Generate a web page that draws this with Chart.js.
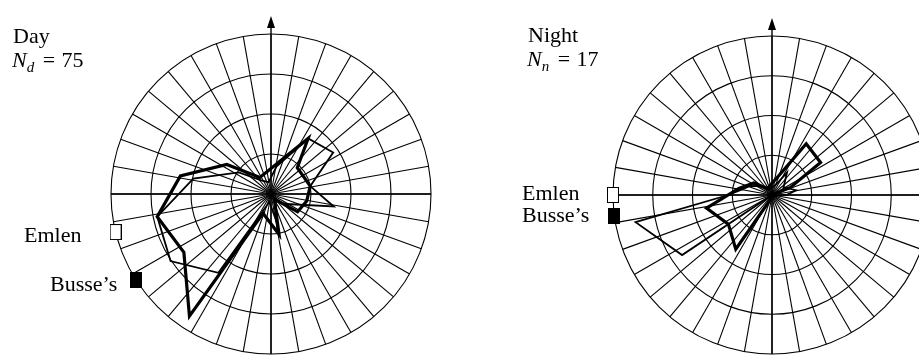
<!DOCTYPE html>
<html>
<head>
<meta charset="utf-8">
<script src="https://cdn.jsdelivr.net/npm/chart.js"></script>
<style>
    html, body { margin: 0; padding: 0; background: #fff; width: 919px; height: 355px; overflow: hidden; }
    canvas { position: absolute; top: 0; }
    .txt { position: absolute; font-family: "Liberation Serif", "Times New Roman", serif; font-size: 22px; line-height: 22px; white-space: nowrap; color: #000; }
    .sub { font-size: 15px; position: relative; top: 5px; font-style: italic; }
    .eq { padding: 0 1px 0 3px; }
</style>
</head>
<body>
<canvas id="day-chart" width="460" height="355" style="left:0"></canvas>
<canvas id="night-chart" width="480" height="355" style="left:460px"></canvas>

<div class="txt" style="left:13px;top:24.6px">Day</div>
<div class="txt" style="left:12px;top:48.6px"><i>N</i><span class="sub">d</span><span class="eq">&nbsp;=&nbsp;</span>75</div>
<div class="txt" style="left:24px;top:223.6px">Emlen</div>
<div class="txt" style="left:50px;top:272.6px">Busse’s</div>

<div class="txt" style="left:528px;top:23.6px">Night</div>
<div class="txt" style="left:527px;top:47.6px"><i>N</i><span class="sub">n</span><span class="eq">&nbsp;=&nbsp;</span>17</div>
<div class="txt" style="left:522px;top:181.6px">Emlen</div>
<div class="txt" style="left:522px;top:203.6px">Busse’s</div>

<script>
// Directions of the 32 sectors (degrees, clockwise from north)
const bearings = [0, 11.25, 22.5, 33.75, 45, 56.25, 67.5, 78.75,
    90, 101.25, 112.5, 123.75, 135, 146.25, 157.5, 168.75,
    180, 191.25, 202.5, 213.75, 225, 236.25, 247.5, 258.75,
    270, 281.25, 292.5, 303.75, 315, 326.25, 337.5, 348.75];

// Values in ring units (outer circle = 4); null = no vertex drawn there
const dayThick = [null, null, null, 1.67, 0.93, null, null, 1.0,
    null, 0.91, null, 0.8, null, 0.15, null, 1.03,
    null, null, 0.52, 3.67, null, 2.62, null, 2.9,
    null, 2.31, null, 1.33, null, 0.5, null, null];
const dayThin = [null, 0.7, null, 1.67, null, 1.87, null, 1.0,
    null, 1.6, null, 0.45, null, 0.2, null, 0.7,
    null, 0.2, null, 2.37, null, 3.02, null, 2.9,
    null, 1.98, null, 0.97, null, 0.4, null, 0.3];

const nightThick = [null, null, 0.6, 1.55, null, 1.47, 0.5, null,
    null, null, null, null, 0, null, null, null,
    null, null, 0.15, 1.64, null, 1.32, null, 1.68,
    null, 0.85, null, 0.55, null, 0.2, null, null];
const nightThin = [null, null, 0.3, 0.68, null, 0.35, null, 0.62,
    0.36, null, 0.05, null, null, null, null, null,
    null, 0, null, null, null, 2.72, null, 3.5,
    1.1, 0.75, 0.6, 0.4, null, 0.15, null, null];

// Mean directions marked on the outer circle
const markerNames = ['Emlen', 'Busse’s'];
const dayMarkerBearings = [256, 238];
const nightMarkerBearings = [270, 263];
const outerRing = 4;

// Fine angular grid so both 10° spokes and 11.25° sectors fall on labels
const STEP = 1.25;
const slots = Array.from({ length: 360 / STEP }, (_, i) => i * STEP);

function expand(angles, values) {
    const out = slots.map(() => null);
    angles.forEach((a, i) => {
        if (values[i] === null || values[i] === undefined) return;
        out[Math.round(a / STEP) % slots.length] = values[i];
    });
    return out;
}

// Small rectangles used as marker glyphs
function markerGlyph(filled) {
    const c = document.createElement('canvas');
    c.width = 12;
    c.height = 16;
    const g = c.getContext('2d');
    g.fillStyle = filled ? '#000' : '#fff';
    g.fillRect(0.5, 0.5, 11, 15);
    g.strokeStyle = '#000';
    g.lineWidth = 1;
    g.strokeRect(0.5, 0.5, 11, 15);
    return c;
}

// Axis cross with arrow on top, drawn from the radial scale geometry
const axesPlugin = {
    id: 'axes',
    beforeDatasetsDraw(chart) {
        const s = chart.scales.r;
        const ctx = chart.ctx;
        const r = s.drawingArea;
        const cx = s.xCenter, cy = s.yCenter;
        ctx.save();
        ctx.strokeStyle = '#000';
        ctx.lineWidth = 1.4;
        ctx.beginPath();
        ctx.moveTo(cx - r, cy);
        ctx.lineTo(cx + r, cy);
        ctx.moveTo(cx, cy + r);
        ctx.lineTo(cx, cy - r - 8);
        ctx.stroke();
        ctx.fillStyle = '#000';
        ctx.beginPath();
        ctx.moveTo(cx, cy - r - 18);
        ctx.lineTo(cx - 4, cy - r - 6);
        ctx.lineTo(cx + 4, cy - r - 6);
        ctx.closePath();
        ctx.fill();
        ctx.restore();
    }
};

function lineSet(label, values, width) {
    return {
        label: label,
        data: expand(bearings, values),
        borderColor: '#000',
        borderWidth: width,
        borderJoinStyle: 'miter',
        fill: false,
        spanGaps: true,
        tension: 0,
        pointRadius: 0,
        pointHoverRadius: 0,
        clip: false
    };
}

function markerSet(label, bearing, filled) {
    return {
        label: label,
        data: expand([bearing], [outerRing]),
        showLine: false,
        pointStyle: markerGlyph(filled),
        pointRadius: 6,
        pointHoverRadius: 6,
        clip: false
    };
}

function renderRose(canvasId, thick, thin, markerBearings, padding) {
    const ctx = document.getElementById(canvasId).getContext('2d');
    return new Chart(ctx, {
        type: 'radar',
        data: {
            labels: slots,
            datasets: [
                lineSet('thin', thin, 1.8),
                lineSet('thick', thick, 3.2),
                markerSet(markerNames[0], markerBearings[0], false),
                markerSet(markerNames[1], markerBearings[1], true)
            ]
        },
        options: {
            responsive: false,
            animation: false,
            events: [],
            layout: { padding: padding },
            plugins: { legend: { display: false }, tooltip: { enabled: false } },
            scales: {
                r: {
                    min: 0,
                    max: outerRing,
                    startAngle: 0,
                    ticks: { display: false, stepSize: 1 },
                    grid: { circular: true, color: '#000', lineWidth: 1.1 },
                    angleLines: {
                        color: '#000',
                        // one spoke every 10 degrees
                        lineWidth: c => (c.index % 8 === 0 ? 1.1 : 0)
                    },
                    pointLabels: { display: false }
                }
            }
        },
        plugins: [axesPlugin]
    });
}

renderRose('day-chart', dayThick, dayThin, dayMarkerBearings,
    { left: 111, top: 34, right: 29, bottom: 1 });
renderRose('night-chart', nightThick, nightThin, nightMarkerBearings,
    { left: 153, top: 36, right: 9, bottom: 1 });
</script>
</body>
</html>
